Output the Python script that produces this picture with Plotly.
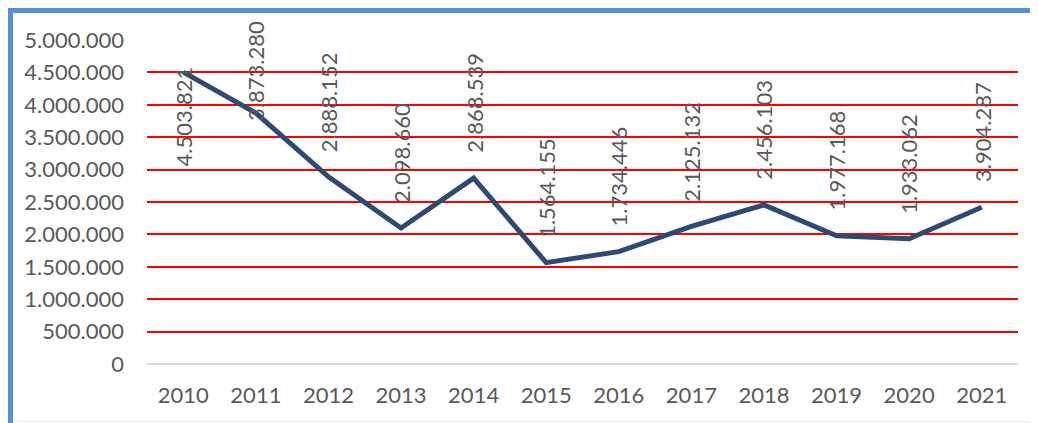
import plotly.graph_objects as go

years = ["2010", "2011", "2012", "2013", "2014", "2015", "2016", "2017", "2018", "2019", "2020", "2021"]
values = [4503821, 3873280, 2888152, 2098660, 2868539, 1564155, 1734446, 2125132, 2456103, 1977168, 1933062, 2420000]
labels = ["4.503.821", "3.873.280", "2.888.152", "2.098.660", "2.868.539", "1.564.155", "1.734.446",
          "2.125.132", "2.456.103", "1.977.168", "1.933.062", "3.904.287"]
tick_vals = [0, 500000, 1000000, 1500000, 2000000, 2500000, 3000000, 3500000, 4000000, 4500000, 5000000]
tick_text = ["0", "500.000", "1.000.000", "1.500.000", "2.000.000", "2.500.000", "3.000.000",
             "3.500.000", "4.000.000", "4.500.000", "5.000.000"]

OFF = 8  # page body margin
W, H = 1038 - OFF, 423 - OFF
L, R, T, B = 147 - OFF, 20, 40 - OFF, 59
YMAX = 5000000
plot_h = H - T - B
plot_w = W - L - R
FONT = "Lato, 'Open Sans', 'DejaVu Sans', sans-serif"
GREY = "#595959"
FS = 22

fig = go.Figure()
fig.add_trace(go.Scatter(
    x=list(range(len(years))), y=values, mode="lines",
    line=dict(color="#2E4A72", width=5), hoverinfo="skip", showlegend=False,
))

LABEL_LEN = 93
GAP = 23
TOP_LIMIT = 18 - OFF
for i, (v, txt) in enumerate(zip(values, labels)):
    py = T + (1 - v / YMAX) * plot_h
    top = py - GAP - LABEL_LEN
    if top >= TOP_LIMIT:
        yanchor, ypix = "bottom", py - GAP
    elif py - LABEL_LEN >= TOP_LIMIT:
        yanchor, ypix = "top", TOP_LIMIT + 1
    else:
        yanchor, ypix = "top", py - 8
    fig.add_annotation(
        x=i, xref="x", y=1 - (ypix - T) / plot_h, yref="paper",
        text=txt, textangle=-90, showarrow=False,
        xanchor="center", yanchor=yanchor,
        font=dict(family=FONT, size=FS, color=GREY),
    )

def px_x(p):
    return (p - OFF - L) / plot_w

def px_y(p):
    return 1 - (p - OFF - T) / plot_h

fig.add_shape(type="line", xref="paper", yref="paper", x0=px_x(10.5), x1=px_x(1045), y0=px_y(10.5), y1=px_y(10.5),
              line=dict(color="#5B8FD4", width=5))
fig.add_shape(type="line", xref="paper", yref="paper", x0=px_x(10.5), x1=px_x(10.5), y0=px_y(8), y1=px_y(430),
              line=dict(color="#5B8FD4", width=5))
fig.add_shape(type="line", xref="paper", yref="paper", x0=px_x(13), x1=px_x(1038), y0=px_y(421.5), y1=px_y(421.5),
              line=dict(color="#E3ECF7", width=1.5))

fig.update_layout(
    width=W, height=H,
    margin=dict(l=L, r=R, t=T, b=B),
    paper_bgcolor="white", plot_bgcolor="white",
    font=dict(family=FONT, size=FS, color=GREY),
    xaxis=dict(
        range=[-0.5, len(years) - 0.5], tickvals=list(range(len(years))), ticktext=years,
        showgrid=False, zeroline=False, showline=False, ticks="",
        ticklabelstandoff=16,
        tickfont=dict(size=FS, color=GREY), fixedrange=True,
    ),
    yaxis=dict(
        range=[0, YMAX], tickvals=tick_vals, ticktext=tick_text,
        showgrid=True, gridcolor="#FF0000", gridwidth=2,
        zeroline=True, zerolinecolor="#D9D9D9", zerolinewidth=2,
        showline=False, ticks="", ticklabelstandoff=22,
        tickfont=dict(size=FS, color=GREY), fixedrange=True,
    ),
)

fig.write_html("out.html")
